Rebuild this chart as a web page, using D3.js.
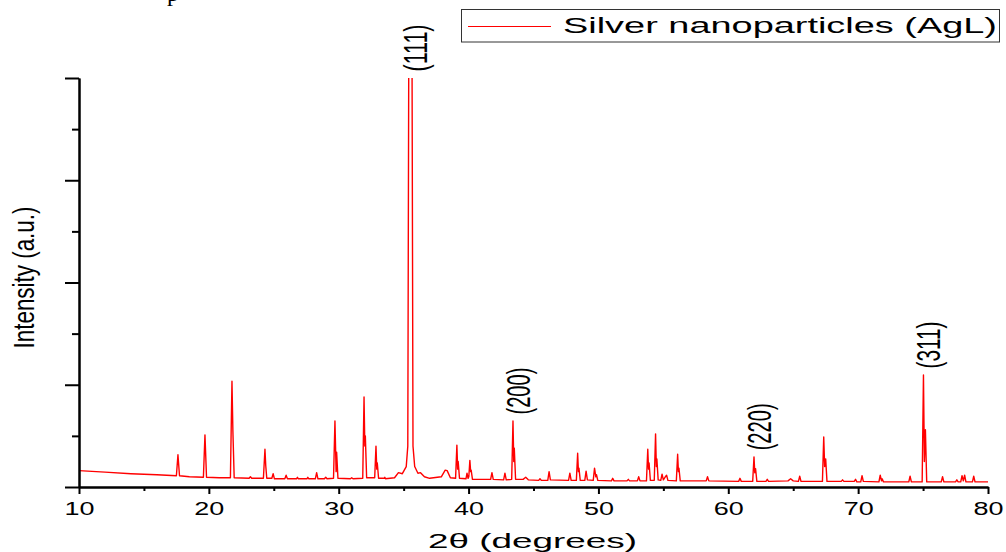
<!DOCTYPE html>
<html>
<head>
<meta charset="utf-8">
<script src="https://cdn.jsdelivr.net/npm/d3@7"></script>
<style>
  html, body { margin: 0; padding: 0; background: #fff; }
  svg { display: block; font-family: "Liberation Sans", Arial, sans-serif; }
</style>
</head>
<body>
<svg id="chart" width="1006" height="552"></svg>
<script>
/* XRD pattern of silver nanoparticles. Points are [2θ, intensity] read off the
   reference; each sharp reflection is a short run of points (foot, top, shoulder, foot). */
const pattern = [
  [10,0.32],[12,0.29],[14,0.26],[16,0.24],[17.5,0.22],[17.62,0.63],[17.74,0.22],
  [18.5,0.2],[19.58,0.19],[19.7,1.02],[19.82,0.19],
  [20.8,0.18],[21.66,0.18],[21.78,2.07],[21.85,1.1],[21.95,0.18],
  [23.1,0.17],[23.2,0.2],[23.3,0.17],
  [24.2,0.17],[24.32,0.74],[24.38,0.42],[24.46,0.17],
  [24.85,0.17],[24.95,0.26],[25.05,0.16],
  [25.85,0.16],[25.95,0.23],[26.05,0.16],
  [26.75,0.16],[26.82,0.19],[26.9,0.16],
  [27.55,0.16],[27.62,0.19],[27.7,0.16],
  [28.2,0.16],[28.3,0.28],[28.4,0.16],
  [28.9,0.16],[29.0,0.19],[29.1,0.16],
  [29.6,0.17],[29.71,1.29],[29.8,0.3],[29.84,0.68],[29.94,0.17],
  [30.9,0.16],[31.0,0.18],[31.1,0.16],
  [31.85,0.17],[31.95,1.76],[32.01,0.8],[32.05,1.0],[32.15,0.18],
  [32.77,0.18],[32.87,0.8],[32.93,0.35],[32.97,0.47],[33.07,0.17],
  [33.5,0.17],[33.55,0.19],[33.6,0.16],
  [34.3,0.18],[34.6,0.28],[34.9,0.26],[35.2,0.4],[35.32,0.8],[35.4,9],[35.64,9],
  [35.72,0.8],[35.85,0.4],[36.1,0.27],[36.3,0.28],[36.6,0.2],[37.0,0.17],
  [37.9,0.2],[38.2,0.33],[38.35,0.32],[38.6,0.18],
  [39.0,0.17],[39.1,0.82],[39.16,0.35],[39.2,0.5],[39.3,0.17],
  [39.8,0.16],[39.88,0.27],[39.96,0.17],[40.02,0.2],[40.1,0.52],[40.16,0.3],[40.2,0.33],[40.3,0.15],
  [41.7,0.15],[41.8,0.28],[41.9,0.15],
  [42.7,0.14],[42.8,0.27],[42.9,0.14],
  [43.32,0.15],[43.42,1.29],[43.48,0.5],[43.52,0.76],[43.62,0.15],
  [44.2,0.15],[44.4,0.19],[44.6,0.14],
  [45.4,0.13],[45.5,0.16],[45.6,0.13],
  [46.1,0.13],[46.2,0.3],[46.3,0.14],
  [47.7,0.13],[47.8,0.27],[47.9,0.13],
  [48.3,0.13],[48.4,0.66],[48.46,0.3],[48.5,0.37],[48.6,0.13],
  [48.95,0.13],[49.05,0.31],[49.15,0.14],
  [49.6,0.13],[49.7,0.37],[49.8,0.2],[49.85,0.24],[49.95,0.13],
  [51.0,0.12],[51.1,0.17],[51.2,0.12],
  [52.2,0.12],[52.3,0.15],[52.4,0.12],
  [53.0,0.12],[53.1,0.2],[53.2,0.12],
  [53.7,0.12],[53.8,0.74],[53.86,0.35],[53.9,0.47],[54.0,0.13],
  [54.3,0.13],[54.4,1.04],[54.46,0.4],[54.5,0.55],[54.6,0.14],
  [54.8,0.13],[54.9,0.25],[55.0,0.14],[55.15,0.2],[55.25,0.23],[55.35,0.13],
  [56.0,0.12],[56.1,0.64],[56.16,0.3],[56.2,0.37],[56.3,0.12],
  [58.3,0.12],[58.4,0.2],[58.5,0.12],
  [60.8,0.11],[60.9,0.17],[61.0,0.11],
  [61.88,0.11],[61.98,0.59],[62.04,0.28],[62.1,0.36],[62.2,0.11],
  [62.9,0.11],[63.0,0.15],[63.1,0.11],
  [64.6,0.12],[64.8,0.16],[65.0,0.12],
  [65.4,0.11],[65.5,0.21],[65.6,0.11],
  [67.25,0.11],[67.35,0.98],[67.42,0.4],[67.5,0.55],[67.6,0.11],
  [68.7,0.11],[68.8,0.14],[68.9,0.11],
  [69.7,0.11],[69.8,0.15],[69.9,0.1],
  [70.2,0.1],[70.3,0.22],[70.4,0.11],
  [71.6,0.1],[71.7,0.23],[71.8,0.12],[71.85,0.16],[71.95,0.1],
  [73.9,0.1],[74.0,0.21],[74.1,0.1],
  [74.93,0.1],[75.03,2.19],[75.1,0.5],[75.18,1.12],[75.28,0.1],
  [76.4,0.1],[76.5,0.2],[76.6,0.1],
  [77.5,0.1],[77.6,0.14],[77.7,0.1],
  [77.9,0.1],[78.0,0.22],[78.1,0.12],[78.2,0.23],[78.3,0.1],
  [78.8,0.1],[78.9,0.21],[79.0,0.1],
  [80,0.1]
];

const hklLabels = ['(111)', '(200)', '(220)', '(311)'];
const hklPos = [35.52, 43.42, 61.98, 75.03];

const xMajor = [10, 20, 30, 40, 50, 60, 70, 80];
const xMinor = [15, 25, 35, 45, 55, 65, 75];
const yMajor = [0, 2, 4, 6, 8];
const yMinor = [1, 3, 5, 7];

const seriesName = 'Silver nanoparticles (AgL)';
const xTitle = '2\u03B8 (degrees)';
const yTitle = 'Intensity (a.u.)';

const svg = d3.select('#chart');
const plot = { left: 79, right: 988, top: 78, bottom: 487 };

const x = d3.scaleLinear().domain([10, 80]).range([plot.left, plot.right]);
const y = d3.scaleLinear().domain([0, 8]).range([plot.bottom, plot.top]);

// cut-off caption letter peeking in at the very top
svg.append('text').attr('x', 167).attr('y', 1)
  .style('font-family', '"Liberation Serif", "Times New Roman", serif')
  .style('font-size', '24px').attr('fill', '#000').text('p');

svg.append('clipPath').attr('id', 'plotclip')
  .append('rect').attr('x', plot.left).attr('y', plot.top)
  .attr('width', plot.right - plot.left).attr('height', plot.bottom - plot.top);

svg.append('path').datum(pattern)
  .attr('clip-path', 'url(#plotclip)')
  .attr('fill', 'none').attr('stroke', '#ff0000').attr('stroke-width', 1.4)
  .attr('stroke-linejoin', 'round')
  .attr('d', d3.line().x(d => x(d[0])).y(d => y(d[1])));

// axes
function styleAxis(g){
  g.selectAll('path, line').attr('stroke', '#000').attr('stroke-width', 2);
}
svg.append('g').attr('transform', `translate(0,${plot.bottom})`)
  .call(d3.axisBottom(x).tickValues(xMinor).tickSize(4).tickSizeOuter(0).tickFormat(''))
  .call(styleAxis);
const xg = svg.append('g').attr('transform', `translate(0,${plot.bottom})`)
  .call(d3.axisBottom(x).tickValues(xMajor).tickSize(7).tickSizeOuter(0))
  .call(styleAxis);
xg.selectAll('text')
  .attr('y', 28).attr('dy', 0).attr('fill', '#000')
  .style('font-size', '17.5px')
  .attr('textLength', 30).attr('lengthAdjust', 'spacingAndGlyphs');

svg.append('g').attr('transform', `translate(${plot.left},0)`)
  .call(d3.axisLeft(y).tickValues(yMinor).tickSize(7).tickSizeOuter(0).tickFormat(''))
  .call(styleAxis);
svg.append('g').attr('transform', `translate(${plot.left},0)`)
  .call(d3.axisLeft(y).tickValues(yMajor).tickSize(14).tickSizeOuter(0).tickFormat(''))
  .call(styleAxis);

// axis titles
svg.append('text').attr('x', (plot.left + plot.right) / 2 - 1).attr('y', 548)
  .attr('text-anchor', 'middle').attr('fill', '#000')
  .style('font-size', '21px')
  .attr('textLength', 209).attr('lengthAdjust', 'spacingAndGlyphs')
  .text(xTitle);

svg.append('text')
  .attr('transform', `translate(34,${(plot.top + plot.bottom) / 2 - 5}) rotate(-90)`)
  .attr('text-anchor', 'middle').attr('fill', '#000')
  .style('font-size', '29px')
  .attr('textLength', 142).attr('lengthAdjust', 'spacingAndGlyphs')
  .text(yTitle);

// hkl labels above the silver reflections
const peakTop = p => Math.min(8, d3.max(pattern.filter(d => Math.abs(d[0] - p) < 0.3), d => d[1]));
svg.append('g').selectAll('text').data(hklLabels).join('text')
  .attr('transform', (d, i) => `translate(${x(hklPos[i]) + 17},${y(peakTop(hklPos[i])) - 30}) rotate(-90)`)
  .attr('text-anchor', 'middle').attr('fill', '#000')
  .style('font-size', '34px')
  .attr('textLength', 47).attr('lengthAdjust', 'spacingAndGlyphs')
  .text(d => d);

// legend
const lg = svg.append('g');
lg.append('rect').attr('x', 461.5).attr('y', 9.5).attr('width', 538).attr('height', 32.5)
  .attr('fill', '#fff').attr('stroke', '#333').attr('stroke-width', 1);
lg.append('line').attr('x1', 468).attr('x2', 551).attr('y1', 26.5).attr('y2', 26.5)
  .attr('stroke', '#ff0000').attr('stroke-width', 1);
lg.append('text').attr('x', 563).attr('y', 33).attr('fill', '#000')
  .style('font-size', '22px')
  .attr('textLength', 434).attr('lengthAdjust', 'spacingAndGlyphs')
  .text(seriesName);
</script>
</body>
</html>
